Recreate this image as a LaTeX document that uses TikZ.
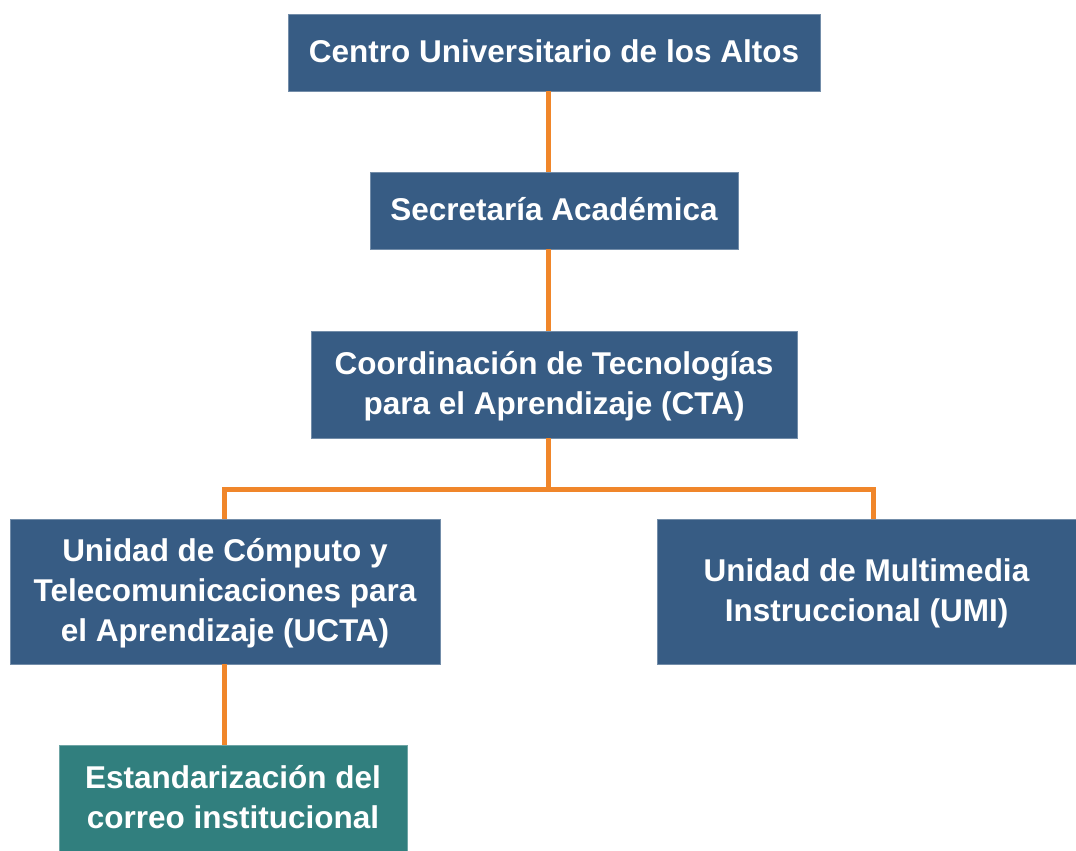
\documentclass[tikz,border=0pt]{standalone}
\usepackage{fontspec}
\setmainfont{Liberation Sans}
\usetikzlibrary{positioning}
\definecolor{udgblue}{HTML}{375C84}
\definecolor{udgteal}{HTML}{317F7E}
\definecolor{udgorange}{HTML}{F0862A}

\tikzset{
	caja/.style={fill=udgblue, draw=udgblue!70!white, line width=0.75pt, text=white, inner sep=0pt, text depth=0.22em, align=center, font=\fontsize{31.5}{40}\selectfont\bfseries},
	cajaverde/.style={caja, fill=udgteal, draw=udgteal!70!white},
	conector/.style={udgorange, line width=5pt, line join=miter}
}

\begin{document}
\begin{tikzpicture}[x=1pt,y=-1pt]
		\useasboundingbox (0,0) rectangle (1076,851);
		
		% Cajas del organigrama
		\node[caja, minimum width=532pt, minimum height=77pt] (centro) at (554,52.5) {Centro Universitario de los Altos};
		\node[caja, minimum width=368pt, minimum height=77pt] (secretaria) at (554,210.5) {Secretaría Académica};
		\node[caja, minimum width=486pt, minimum height=107pt] (cta) at (554,384.5) {Coordinación de Tecnologías\\para el Aprendizaje (CTA)};
		\node[caja, minimum width=430pt, minimum height=145pt] (ucta) at (225,591.5) {Unidad de Cómputo y\\Telecomunicaciones para\\el Aprendizaje (UCTA)};
		\node[caja, minimum width=419pt, minimum height=145pt] (umi) at (866.5,591.5) {Unidad de Multimedia\\Instruccional (UMI)};
		\node[cajaverde, minimum width=348pt, minimum height=106pt] (estandar) at (233,798) {Estandarización del\\correo institucional};
		
		% Conectores
		\coordinate (rama) at (548,489);
		\draw[conector] ([xshift=-6pt]centro.south) -- ([xshift=-6pt]secretaria.north);
		\draw[conector] ([xshift=-6pt]secretaria.south) -- ([xshift=-6pt]cta.north);
		\draw[conector] ([xshift=-6pt]cta.south) -- (rama);
		\draw[conector] ([xshift=-1pt]ucta.north) |- (rama) -| ([xshift=6.5pt]umi.north);
		\draw[conector] ([xshift=-1pt]ucta.south) -- ([xshift=-1pt]ucta.south |- estandar.north);
	\end{tikzpicture}
\end{document}
